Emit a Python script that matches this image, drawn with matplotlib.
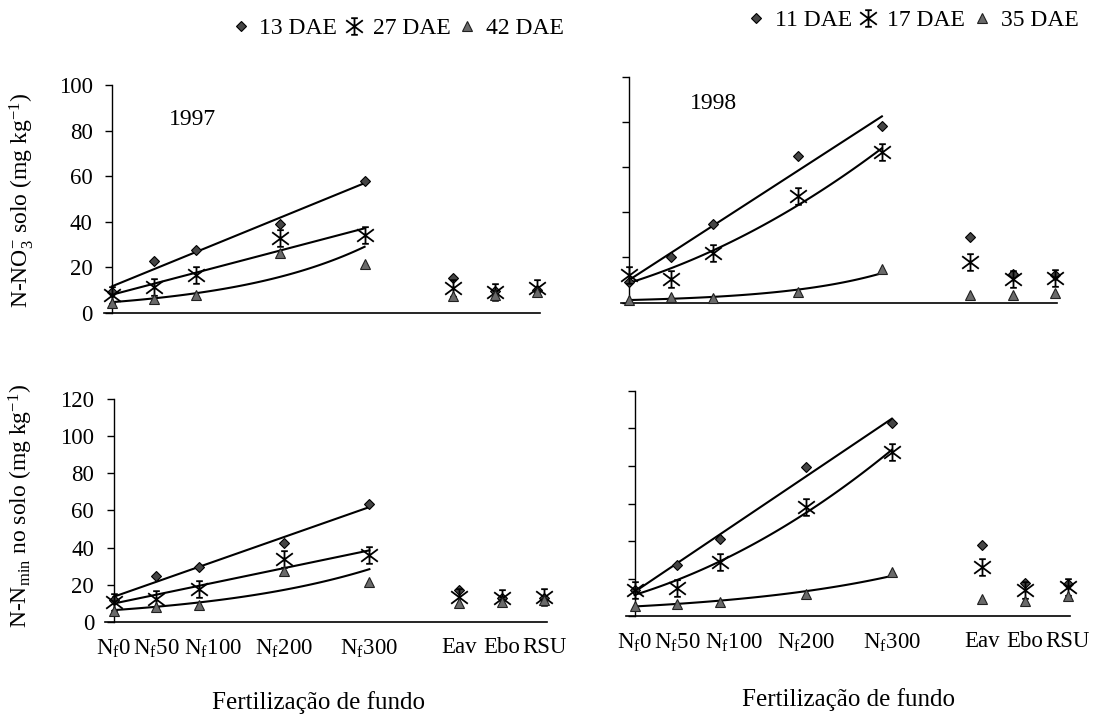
import numpy as np
import matplotlib
matplotlib.use("Agg")
import matplotlib.pyplot as plt
from matplotlib.path import Path
from matplotlib.transforms import ScaledTranslation

plt.rcParams['font.family'] = ['Liberation Serif', 'DejaVu Serif']
plt.rcParams['mathtext.fontset'] = 'custom'
plt.rcParams['mathtext.rm'] = 'Liberation Serif'
plt.rcParams['mathtext.it'] = 'Liberation Serif:italic'
plt.rcParams['mathtext.bf'] = 'Liberation Serif:bold'

# mineral N doses (kg/ha) and organic amendments
n_doses = [0, 50, 100, 200, 300]
n_labels = ['N$_\\mathrm{f}$0', 'N$_\\mathrm{f}$50', 'N$_\\mathrm{f}$100',
            'N$_\\mathrm{f}$200', 'N$_\\mathrm{f}$300']
organic = ['Eav', 'Ebo', 'RSU']

dae_1997 = ['13 DAE', '27 DAE', '42 DAE']
dae_1998 = ['11 DAE', '17 DAE', '35 DAE']

# N-NO3 in soil, 1997 (mineral doses, then organic)
no3_97_a = [9, 23, 27.6, 39, 58]
no3_97_a_org = [15.5, 9.5, 10]
no3_97_b = [8, 11.5, 16.7, 33, 34]
no3_97_b_org = [11, 9, 11]
no3_97_c = [4.5, 6, 8, 26.5, 21.5]
no3_97_c_org = [7.5, 8, 9]

# N-NO3 in soil, 1998
no3_98_a = [9, 20, 34.6, 65, 78]
no3_98_a_org = [29, 12.5, 12]
no3_98_b = [12, 10.4, 22, 47, 66.7]
no3_98_b_org = [17.8, 10.4, 11]
no3_98_c = [1, 2.3, 2.1, 4.6, 15]
no3_98_c_org = [3.3, 3.3, 4]

# N-Nmin in soil, 1997
nmin_97_a = [12, 24.7, 29.6, 42.5, 63.4]
nmin_97_a_org = [17, 13, 13]
nmin_97_b = [11, 12.5, 18, 34, 36]
nmin_97_b_org = [13.5, 13, 13.5]
nmin_97_c = [6, 8, 9.4, 27.5, 21.7]
nmin_97_c_org = [10, 11, 12]

# N-Nmin in soil, 1998
nmin_98_a = [14, 27, 41, 79.5, 103]
nmin_98_a_org = [38, 17.6, 17]
nmin_98_b = [14, 15, 29, 58, 87.5]
nmin_98_b_org = [26, 14, 15.5]
nmin_98_c = [5.5, 6.6, 7.5, 12, 23.5]
nmin_98_c_org = [9, 8, 10.5]

# trendline type per sampling date: linear, 2nd order polynomial, exponential
trends_1997 = ['lin', 'lin', 'exp']
trends_1998 = ['lin', 'poly', 'exp']

W, H = 1099, 722
fig = plt.figure(figsize=(W / 100, H / 100), dpi=100)

# asterisk with caps, like the old spreadsheet marker
star = Path(
    [(0, -1), (0, 1), (-1, -0.75), (1, 0.75), (-1, 0.75), (1, -0.75),
     (-0.4, 1), (0.4, 1), (-0.4, -1), (0.4, -1)],
    [Path.MOVETO, Path.LINETO] * 5)

styles = [
    dict(marker='D', ms=5, mfc='#454545', mec='black', mew=0.8),
    dict(marker=star, ms=12, mfc='none', mec='black', mew=1.3),
    dict(marker='^', ms=6.5, mfc='#6a6a6a', mec='#202020', mew=0.8),
]


def trend(x, y, kind):
    x = np.asarray(x, float)
    y = np.asarray(y, float)
    xs = np.linspace(x.min(), x.max(), 120)
    if kind == 'lin':
        return xs, np.polyval(np.polyfit(x, y, 1), xs)
    if kind == 'poly':
        return xs, np.polyval(np.polyfit(x, y, 2), xs)
    c = np.polyfit(x, np.log(y), 1)
    return xs, np.exp(np.polyval(c, xs))


def make_axes(x0, sx, y0, sy, ymax):
    # x0/y0: pixel of the data origin, sx/sy: pixels per unit
    xmin, xmax = -10, 508
    left = (x0 + xmin * sx) / W
    width = (xmax - xmin) * sx / W
    bottom = (H - y0) / H
    height = ymax * sy / H
    ax = fig.add_axes([left, bottom, width, height])
    ax.set_xlim(xmin, xmax)
    ax.set_ylim(0, ymax)
    ax.spines['top'].set_visible(False)
    ax.spines['right'].set_visible(False)
    ax.spines['left'].set_position(('data', 0))
    ax.spines['left'].set_linewidth(1.0)
    ax.spines['bottom'].set_linewidth(1.2)
    ax.set_yticks(np.arange(0, ymax + 1, 20))
    ax.tick_params(axis='y', direction='out', length=5, width=1,
                   labelsize=16.5, pad=9)
    ax.tick_params(axis='x', length=0, labelsize=16.5, pad=11)
    ax.patch.set_alpha(0)
    return ax


def draw_panel(ax, series, series_org, kinds):
    org_x = n_doses[-1] + 105 + 50 * np.arange(len(organic))
    handles = []
    for y, y_org, kind, st in zip(series, series_org, kinds, styles):
        xs, ys = trend(n_doses, y, kind)
        ax.plot(xs, ys, color='black', lw=1.5, zorder=2)
        h, = ax.plot(n_doses, y, ls='none', clip_on=False, zorder=3, **st)
        ax.plot(org_x, y_org, ls='none', clip_on=False, zorder=3, **st)
        handles.append(h)
    return handles, org_x


ax_tl = make_axes(112, 0.842, 313, 2.28, 100)
ax_tr = make_axes(629, 0.843, 302.5, 2.26, 100)
ax_bl = make_axes(113.5, 0.853, 622, 1.86, 120)
ax_br = make_axes(634.5, 0.858, 616, 1.875, 120)

h97, org_x = draw_panel(ax_tl, [no3_97_a, no3_97_b, no3_97_c],
                        [no3_97_a_org, no3_97_b_org, no3_97_c_org],
                        trends_1997)
h98, _ = draw_panel(ax_tr, [no3_98_a, no3_98_b, no3_98_c],
                    [no3_98_a_org, no3_98_b_org, no3_98_c_org],
                    trends_1998)
draw_panel(ax_bl, [nmin_97_a, nmin_97_b, nmin_97_c],
           [nmin_97_a_org, nmin_97_b_org, nmin_97_c_org], trends_1997)
draw_panel(ax_br, [nmin_98_a, nmin_98_b, nmin_98_c],
           [nmin_98_a_org, nmin_98_b_org, nmin_98_c_org], trends_1998)

for ax in (ax_tl, ax_tr):
    ax.set_xticks([])
for ax in (ax_tr, ax_br):
    ax.tick_params(axis='y', labelleft=False)

for ax in (ax_bl, ax_br):
    ax.set_xticks(list(n_doses) + list(org_x))
    ax.set_xticklabels(n_labels + organic)
    # the N100 label sits a bit to the right so it clears N50
    lab = ax.get_xticklabels()[2]
    lab.set_transform(lab.get_transform() +
                      ScaledTranslation(14 / 100, 0, fig.dpi_scale_trans))

ax_tl.set_ylabel('N-NO$_3^{-}$ solo (mg kg$^{-1}$)', fontsize=17)
ax_tl.yaxis.set_label_coords(36 / W, 1 - 200 / H, transform=fig.transFigure)
ax_bl.set_ylabel('N-N$_\\mathrm{min}$ no solo (mg kg$^{-1}$)', fontsize=17)
ax_bl.yaxis.set_label_coords(35 / W, 1 - 506 / H, transform=fig.transFigure)

ax_tl.text(95, 85, '1997', fontsize=17, ha='center', va='center')
ax_tr.text(100, 88, '1998', fontsize=17, ha='center', va='center')

fig.text(318 / W, 1 - 703 / H, 'Fertilização de fundo', fontsize=18,
         ha='center', va='center')
fig.text(849 / W, 1 - 700 / H, 'Fertilização de fundo', fontsize=18,
         ha='center', va='center')

leg_kw = dict(loc='center', ncol=3, frameon=False, fontsize=17,
              handlelength=0.7, handletextpad=0.45, columnspacing=0.35,
              borderpad=0, bbox_transform=fig.transFigure)
ax_tl.legend(h97, dae_1997, bbox_to_anchor=(398 / W, 1 - 28 / H), **leg_kw)
ax_tr.legend(h98, dae_1998, bbox_to_anchor=(913 / W, 1 - 20 / H), **leg_kw)

fig.savefig('out.png', dpi=100)
